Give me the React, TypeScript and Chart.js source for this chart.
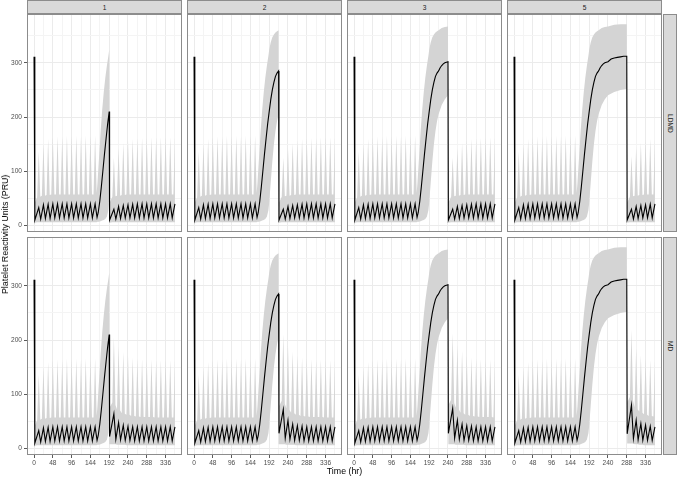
import React, { useEffect, useRef } from 'react';
import { Chart, registerables } from 'chart.js';

Chart.register(...registerables);

type P = [number, number];
type B = [number, number, number];

// ---------- facets & axes ----------
const facetCols = ['1', '2', '3', '5'];
const facetRows = ['LDMD', 'MD'];
const resumeTimes = [192, 216, 240, 288];
const xGridTicks = [0, 24, 48, 72, 96, 120, 144, 168, 192, 216, 240, 264, 288, 312, 336, 360];
const xTickLabels = [0, 48, 96, 144, 192, 240, 288, 336];
const yGridTicks = [0, 50, 100, 150, 200, 250, 300, 350];
const yTickLabels = [0, 100, 200, 300];
const xTitle = 'Time (hr)';
const yTitle = 'Platelet Reactivity Units (PRU)';

// ---------- median PRU: first week (q12h), shared by all panels ----------
const preMedian: P[] = [
  [0, 311], [2, 10], [12, 33], [17, 12], [24, 38], [29, 13], [36, 39], [41, 13], [48, 40], [53, 14],
  [60, 40], [65, 14], [72, 40], [77, 14], [84, 40], [89, 14], [96, 40], [101, 14], [108, 40], [113, 14],
  [120, 40], [125, 14], [132, 40], [137, 14], [144, 40], [149, 14], [156, 40], [161, 15],
];
// recovery during the interruption (read up to each panel's restart time)
const riseMedian: P[] = [
  [164, 24], [168, 45], [172, 72], [176, 102], [180, 132], [184, 160], [188, 187], [192, 210],
  [196, 232], [200, 250], [204, 264], [208, 275], [212, 281], [216, 285], [220, 291], [224, 295],
  [228, 298], [232, 300], [236, 301], [240, 302], [248, 307], [256, 309], [264, 310], [272, 311],
  [280, 312], [288, 312],
];
// after restart
const ldmdMedian1: P[] = [[193, 10], [204, 30], [209, 12], [216, 35], [221, 13], [228, 37], [233, 14], [240, 38], [245, 14], [252, 39], [257, 14], [264, 40], [269, 14], [276, 40], [281, 14], [288, 40], [293, 14], [300, 40], [305, 14], [312, 40], [317, 14], [324, 40], [329, 14], [336, 40], [341, 14], [348, 40], [353, 14], [360, 40]];
const ldmdMedian2: P[] = [[217, 10], [228, 30], [233, 12], [240, 35], [245, 13], [252, 37], [257, 14], [264, 38], [269, 14], [276, 39], [281, 14], [288, 40], [293, 14], [300, 40], [305, 14], [312, 40], [317, 14], [324, 40], [329, 14], [336, 40], [341, 14], [348, 40], [353, 14], [360, 40]];
const ldmdMedian3: P[] = [[241, 10], [252, 30], [257, 12], [264, 35], [269, 13], [276, 37], [281, 14], [288, 38], [293, 14], [300, 39], [305, 14], [312, 40], [317, 14], [324, 40], [329, 14], [336, 40], [341, 14], [348, 40], [353, 14], [360, 40]];
const ldmdMedian5: P[] = [[289, 10], [300, 30], [305, 12], [312, 35], [317, 13], [324, 37], [329, 14], [336, 38], [341, 14], [348, 39], [353, 14], [360, 40]];
const mdMedian1: P[] = [[193, 22], [204, 64], [209, 17], [216, 48], [221, 16], [228, 43], [233, 15], [240, 41], [245, 15], [252, 40], [257, 14], [264, 40], [269, 14], [276, 40], [281, 14], [288, 40], [293, 14], [300, 40], [305, 14], [312, 40], [317, 14], [324, 40], [329, 14], [336, 40], [341, 14], [348, 40], [353, 14], [360, 40]];
const mdMedian2: P[] = [[217, 28], [228, 72], [233, 19], [240, 52], [245, 17], [252, 45], [257, 15], [264, 42], [269, 15], [276, 41], [281, 14], [288, 40], [293, 14], [300, 40], [305, 14], [312, 40], [317, 14], [324, 40], [329, 14], [336, 40], [341, 14], [348, 40], [353, 14], [360, 40]];
const mdMedian3: P[] = [[241, 28], [252, 74], [257, 19], [264, 52], [269, 17], [276, 45], [281, 15], [288, 42], [293, 15], [300, 41], [305, 14], [312, 40], [317, 14], [324, 40], [329, 14], [336, 40], [341, 14], [348, 40], [353, 14], [360, 40]];
const mdMedian5: P[] = [[289, 27], [300, 80], [305, 18], [312, 52], [317, 16], [324, 46], [329, 15], [336, 43], [341, 15], [348, 41], [353, 15], [360, 40]];

// ---------- prediction band [time, lower, upper] ----------
const preBand: B[] = [
  [0, 300, 322], [2, 5, 42], [8, 6, 52], [12, 6, 136], [16, 6, 53], [20, 6, 55], [24, 6, 152], [28, 6, 55],
  [32, 6, 56], [36, 6, 160], [40, 6, 56], [44, 6, 57], [48, 6, 163], [52, 6, 57], [56, 6, 57], [60, 6, 165],
  [64, 6, 57], [68, 6, 57], [72, 6, 164], [76, 6, 57], [80, 6, 57], [84, 6, 166], [88, 6, 57], [92, 6, 57],
  [96, 6, 165], [100, 6, 57], [104, 6, 57], [108, 6, 166], [112, 6, 57], [116, 6, 57], [120, 6, 165], [124, 6, 57],
  [128, 6, 57], [132, 6, 166], [136, 6, 57], [140, 6, 57], [144, 6, 165], [148, 6, 57], [152, 6, 57], [156, 6, 166],
];
const riseBand: B[] = [
  [160, 6, 60], [162, 7, 78], [166, 7, 125], [170, 8, 172], [174, 9, 212], [178, 10, 245], [182, 12, 272],
  [186, 16, 294], [190, 28, 313], [192, 42, 324], [196, 80, 338], [200, 118, 347], [204, 150, 352],
  [208, 174, 356], [212, 192, 358], [216, 205, 360], [224, 222, 364], [232, 233, 366], [240, 240, 367],
  [256, 246, 370], [272, 250, 371], [288, 252, 371],
];
const ldmdBand1: B[] = [[193, 5, 42], [200, 6, 53], [204, 6, 125], [208, 6, 54], [212, 6, 55], [216, 6, 143], [220, 6, 55], [224, 6, 56], [228, 6, 152], [232, 6, 56], [236, 6, 57], [240, 6, 157], [244, 6, 57], [248, 6, 57], [252, 6, 160], [256, 6, 57], [260, 6, 57], [264, 6, 161], [268, 6, 57], [272, 6, 57], [276, 6, 162], [280, 6, 57], [284, 6, 57], [288, 6, 162], [292, 6, 57], [296, 6, 57], [300, 6, 163], [304, 6, 57], [308, 6, 57], [312, 6, 163], [316, 6, 57], [320, 6, 57], [324, 6, 163], [328, 6, 57], [332, 6, 57], [336, 6, 163], [340, 6, 57], [344, 6, 57], [348, 6, 163], [352, 6, 57], [356, 6, 57], [360, 6, 163]];
const ldmdBand2: B[] = [[217, 5, 42], [224, 6, 53], [228, 6, 125], [232, 6, 54], [236, 6, 55], [240, 6, 143], [244, 6, 55], [248, 6, 56], [252, 6, 152], [256, 6, 56], [260, 6, 57], [264, 6, 157], [268, 6, 57], [272, 6, 57], [276, 6, 160], [280, 6, 57], [284, 6, 57], [288, 6, 161], [292, 6, 57], [296, 6, 57], [300, 6, 162], [304, 6, 57], [308, 6, 57], [312, 6, 162], [316, 6, 57], [320, 6, 57], [324, 6, 163], [328, 6, 57], [332, 6, 57], [336, 6, 163], [340, 6, 57], [344, 6, 57], [348, 6, 163], [352, 6, 57], [356, 6, 57], [360, 6, 163]];
const ldmdBand3: B[] = [[241, 5, 42], [248, 6, 53], [252, 6, 125], [256, 6, 54], [260, 6, 55], [264, 6, 143], [268, 6, 55], [272, 6, 56], [276, 6, 152], [280, 6, 56], [284, 6, 57], [288, 6, 157], [292, 6, 57], [296, 6, 57], [300, 6, 160], [304, 6, 57], [308, 6, 57], [312, 6, 161], [316, 6, 57], [320, 6, 57], [324, 6, 162], [328, 6, 57], [332, 6, 57], [336, 6, 162], [340, 6, 57], [344, 6, 57], [348, 6, 163], [352, 6, 57], [356, 6, 57], [360, 6, 163]];
const ldmdBand5: B[] = [[289, 5, 42], [296, 6, 53], [300, 6, 128], [304, 6, 54], [308, 6, 55], [312, 6, 145], [316, 6, 55], [320, 6, 56], [324, 6, 153], [328, 6, 56], [332, 6, 57], [336, 6, 158], [340, 6, 57], [344, 6, 57], [348, 6, 160], [352, 6, 57], [356, 6, 57], [360, 6, 161]];
const mdBand1: B[] = [[193, 8, 75], [200, 8, 85], [204, 8, 205], [208, 8, 80], [212, 7, 72], [216, 7, 188], [220, 7, 70], [224, 7, 65], [228, 7, 178], [232, 7, 64], [236, 6, 62], [240, 6, 172], [244, 6, 62], [248, 6, 60], [252, 6, 168], [256, 6, 60], [260, 6, 59], [264, 6, 166], [268, 6, 59], [272, 6, 58], [276, 6, 165], [280, 6, 58], [284, 6, 58], [288, 6, 164], [292, 6, 58], [296, 6, 58], [300, 6, 164], [304, 6, 58], [308, 6, 57], [312, 6, 163], [316, 6, 57], [320, 6, 57], [324, 6, 163], [328, 6, 57], [332, 6, 57], [336, 6, 163], [340, 6, 57], [344, 6, 57], [348, 6, 163], [352, 6, 57], [356, 6, 57], [360, 6, 163]];
const mdBand2: B[] = [[217, 8, 78], [224, 8, 88], [228, 8, 210], [232, 8, 82], [236, 7, 74], [240, 7, 190], [244, 7, 71], [248, 7, 66], [252, 7, 179], [256, 7, 65], [260, 6, 62], [264, 6, 172], [268, 6, 62], [272, 6, 60], [276, 6, 168], [280, 6, 60], [284, 6, 59], [288, 6, 166], [292, 6, 59], [296, 6, 58], [300, 6, 165], [304, 6, 58], [308, 6, 58], [312, 6, 164], [316, 6, 58], [320, 6, 58], [324, 6, 164], [328, 6, 58], [332, 6, 57], [336, 6, 163], [340, 6, 57], [344, 6, 57], [348, 6, 163], [352, 6, 57], [356, 6, 57], [360, 6, 163]];
const mdBand3: B[] = [[241, 8, 80], [248, 8, 90], [252, 8, 212], [256, 8, 84], [260, 7, 75], [264, 7, 191], [268, 7, 72], [272, 7, 66], [276, 7, 180], [280, 7, 65], [284, 6, 62], [288, 6, 172], [292, 6, 62], [296, 6, 60], [300, 6, 168], [304, 6, 60], [308, 6, 59], [312, 6, 166], [316, 6, 59], [320, 6, 58], [324, 6, 165], [328, 6, 58], [332, 6, 58], [336, 6, 164], [340, 6, 58], [344, 6, 58], [348, 6, 164], [352, 6, 58], [356, 6, 57], [360, 6, 163]];
const mdBand5: B[] = [[289, 9, 85], [296, 9, 95], [300, 9, 219], [304, 9, 88], [308, 8, 76], [312, 8, 185], [316, 8, 72], [320, 7, 68], [324, 7, 172], [328, 7, 66], [332, 6, 63], [336, 6, 166], [340, 6, 62], [344, 6, 60], [348, 6, 163], [352, 6, 60], [356, 6, 59], [360, 6, 162]];

const postMedian: P[][][] = [
  [ldmdMedian1, ldmdMedian2, ldmdMedian3, ldmdMedian5],
  [mdMedian1, mdMedian2, mdMedian3, mdMedian5],
];
const postBand: B[][][] = [
  [ldmdBand1, ldmdBand2, ldmdBand3, ldmdBand5],
  [mdBand1, mdBand2, mdBand3, mdBand5],
];

// ---------- layout / style ----------
const colLeft = [27, 187, 347, 507];
const rowTop = [14, 237];
const panelW = 155;
const panelH = 218;
const yAxisW = 27;
const xAxisH = 12;
const FONT = '"Liberation Sans", Arial, Helvetica, sans-serif';
const BORDER = '#8C8C8C';
const MAJOR = '#EBEBEB';
const MINOR = '#F4F4F4';
const RIBBON = '#D4D4D4';

const panelBorder = {
  id: 'panelBorder',
  afterDraw(chart: any) {
    const { ctx, chartArea: a } = chart;
    ctx.save();
    ctx.strokeStyle = BORDER;
    ctx.lineWidth = 1;
    ctx.strokeRect(a.left + 0.5, a.top + 0.5, a.right - a.left - 1, a.bottom - a.top - 1);
    ctx.restore();
  },
};

function Panel({ r, c }: { r: number; c: number }) {
  const ref = useRef<HTMLCanvasElement>(null);
  const isLeft = c === 0;
  const isBottom = r === 1;
  const width = panelW + (isLeft ? yAxisW : 0);
  const height = panelH + (isBottom ? xAxisH : 0);
  const left = colLeft[c] - (isLeft ? yAxisW : 0);

  useEffect(() => {
    const R = resumeTimes[c];
    const med = [...preMedian, ...riseMedian.filter((p) => p[0] <= R), ...postMedian[r][c]];
    const band = [...preBand, ...riseBand.filter((p) => p[0] <= R), ...postBand[r][c]];
    const tickFont = { family: FONT, size: 6.6 };
    const chart = new Chart(ref.current as HTMLCanvasElement, {
      type: 'line',
      data: {
        datasets: [
          {
            data: band.map((b) => ({ x: b[0], y: b[1] })),
            borderColor: 'rgba(0,0,0,0)', borderWidth: 0, pointRadius: 0, fill: false, order: 2,
          },
          {
            data: band.map((b) => ({ x: b[0], y: b[2] })),
            borderColor: 'rgba(0,0,0,0)', borderWidth: 0, pointRadius: 0,
            fill: '-1', backgroundColor: RIBBON, order: 1,
          },
          {
            data: med.map((p) => ({ x: p[0], y: p[1] })),
            borderColor: '#000000', borderWidth: 1.1, pointRadius: 0, fill: false, order: 0,
          },
        ],
      } as any,
      options: {
        animation: false,
        responsive: false,
        maintainAspectRatio: false,
        events: [],
        layout: { padding: 0 },
        plugins: { legend: { display: false }, tooltip: { enabled: false }, title: { display: false } },
        scales: {
          x: {
            type: 'linear', min: -18, max: 378,
            afterBuildTicks: (s: any) => { s.ticks = xGridTicks.map((v) => ({ value: v })); },
            afterFit: (s: any) => {
              s.height = isBottom ? xAxisH : 0;
              s.paddingLeft = 0; s.paddingRight = 0; s.paddingTop = 0; s.paddingBottom = 0;
            },
            ticks: {
              display: isBottom, autoSkip: false, maxRotation: 0, padding: 1, color: '#4D4D4D', font: tickFont,
              callback: (v: any) => (xTickLabels.includes(Number(v)) ? String(v) : ''),
            },
            grid: {
              color: (ctx: any) => (ctx.tick && xTickLabels.includes(ctx.tick.value) ? MAJOR : MINOR),
              lineWidth: 1, drawTicks: isBottom, tickLength: 3,
              tickColor: (ctx: any) => (ctx.tick && xTickLabels.includes(ctx.tick.value) ? '#5A5A5A' : 'rgba(0,0,0,0)'),
            },
            border: { display: false },
          },
          y: {
            type: 'linear', min: -12, max: 390,
            afterBuildTicks: (s: any) => { s.ticks = yGridTicks.map((v) => ({ value: v })); },
            afterFit: (s: any) => {
              s.width = isLeft ? yAxisW : 0;
              s.paddingLeft = 0; s.paddingRight = 0; s.paddingTop = 0; s.paddingBottom = 0;
            },
            ticks: {
              display: isLeft, autoSkip: false, padding: 2, color: '#4D4D4D', font: tickFont,
              callback: (v: any) => (yTickLabels.includes(Number(v)) ? String(v) : ''),
            },
            grid: {
              color: (ctx: any) => (ctx.tick && yTickLabels.includes(ctx.tick.value) ? MAJOR : MINOR),
              lineWidth: 1, drawTicks: isLeft, tickLength: 3,
              tickColor: (ctx: any) => (ctx.tick && yTickLabels.includes(ctx.tick.value) ? '#5A5A5A' : 'rgba(0,0,0,0)'),
            },
            border: { display: false },
          },
        },
      } as any,
      plugins: [panelBorder],
    });
    return () => chart.destroy();
  }, [r, c]);

  return (
    <canvas
      ref={ref}
      width={width}
      height={height}
      style={{ position: 'absolute', left, top: rowTop[r], width, height }}
    />
  );
}

const stripBase: React.CSSProperties = {
  position: 'absolute',
  boxSizing: 'border-box',
  background: '#D9D9D9',
  border: `1px solid ${BORDER}`,
  color: '#1A1A1A',
  fontFamily: FONT,
  fontSize: '6.6px',
  display: 'flex',
  alignItems: 'center',
  justifyContent: 'center',
};

export default function App() {
  return (
    <div
      style={{
        position: 'absolute', left: 0, top: 0, width: 677, height: 477,
        background: '#FFFFFF', overflow: 'hidden', fontFamily: FONT,
      }}
    >
      {facetRows.map((_, r) => facetCols.map((__, c) => <Panel key={`${r}-${c}`} r={r} c={c} />))}
      {facetCols.map((label, c) => (
        <div key={`top-${c}`} style={{ ...stripBase, left: colLeft[c], top: 0, width: panelW, height: 14 }}>
          {label}
        </div>
      ))}
      {facetRows.map((label, r) => (
        <div
          key={`right-${r}`}
          style={{ ...stripBase, left: 663, top: rowTop[r], width: 14, height: panelH, writingMode: 'vertical-rl' }}
        >
          {label}
        </div>
      ))}
      <div
        style={{
          position: 'absolute', left: colLeft[0], width: colLeft[3] + panelW - colLeft[0], top: 466,
          textAlign: 'center', fontSize: '8.8px', color: '#000', lineHeight: '10px',
        }}
      >
        {xTitle}
      </div>
      <div
        style={{
          position: 'absolute', left: 0, top: rowTop[0], width: 10, height: rowTop[1] + panelH - rowTop[0],
          display: 'flex', alignItems: 'center', justifyContent: 'center',
          writingMode: 'vertical-rl', transform: 'rotate(180deg)', fontSize: '8.8px', color: '#000',
        }}
      >
        {yTitle}
      </div>
    </div>
  );
}
